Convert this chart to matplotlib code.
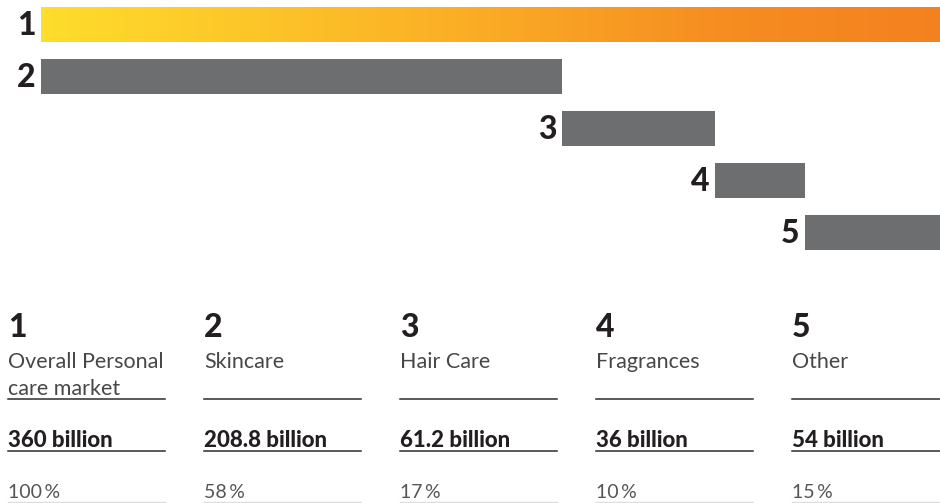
import numpy as np
import matplotlib
matplotlib.use('Agg')
import matplotlib.pyplot as plt
from matplotlib.colors import LinearSegmentedColormap

# data
ranks = ['1', '2', '3', '4', '5']
names = ['Overall Personal\ncare market', 'Skincare', 'Hair Care', 'Fragrances', 'Other']
values = [360, 208.8, 61.2, 36, 54]
value_labels = ['360 billion', '208.8 billion', '61.2 billion', '36 billion', '54 billion']
shares = ['100\u2009%', '58\u2009%', '17\u2009%', '10\u2009%', '15\u2009%']

W, H = 940, 503
GRAY = '#6d6e70'
TEXT = '#231f20'
FONT = ['Lato', 'DejaVu Sans']

fig = plt.figure(figsize=(W / 100, H / 100), dpi=100)

# waterfall bars: total first, then parts stacked left to right
lefts = [0]
acc = 0
for v in values[1:]:
    lefts.append(acc)
    acc += v

ax = fig.add_axes([41 / W, 1 - 260 / H, (W - 41) / W, 260 / H])
ax.axis('off')

ypos = np.arange(len(values))
bars = ax.barh(ypos, values, left=lefts, height=0.67, color=GRAY)

# gradient fill for the total bar
cmap = LinearSegmentedColormap.from_list('sun', [(0, '#fedd2c'), (0.45, '#fbb026'),
                                                 (0.75, '#f68e21'), (1, '#f4811f')])
b0 = bars[0]
b0.set_facecolor('none')
grad = np.linspace(0, 1, 256).reshape(1, -1)
im = ax.imshow(grad, cmap=cmap, aspect='auto',
               extent=(b0.get_x(), b0.get_x() + b0.get_width(),
                       b0.get_y() + b0.get_height(), b0.get_y()))
im.set_clip_path(b0)
ax.set_xlim(0, values[0])
ax.set_ylim(4 + 27.5 / 52, -24.5 / 52)

for i, (l, r) in enumerate(zip(lefts, ranks)):
    ax.annotate(r, (l, i), xytext=(-4, -1), textcoords='offset points',
                ha='right', va='center', fontsize=23, fontweight='black',
                color=TEXT, family=FONT)

# table below the chart, in pixel coordinates
tab = fig.add_axes([0, 0, 1, 1])
tab.set_xlim(0, W)
tab.set_ylim(H, 0)
tab.axis('off')

col_x = [8, 204, 400, 596, 792]
col_w = 157
for x, r, n, v, s in zip(col_x, ranks, names, value_labels, shares):
    tab.text(x, 337, r, fontsize=23, fontweight='black', color=TEXT,
             family=FONT, va='baseline')
    for k, line in enumerate(n.split('\n')):
        tab.text(x, 368 + 27 * k, line, fontsize=15.5, fontweight='normal',
                 color='#474747', family=FONT, va='baseline')
    tab.plot([x, x + col_w], [399, 399], color='#2b2b2b', lw=1.1)
    tab.text(x, 447, v, fontsize=16, fontweight='black', color=TEXT,
             family=FONT, va='baseline')
    tab.plot([x, x + col_w], [451, 451], color='#2b2b2b', lw=1.1)
    tab.text(x, 498, s, fontsize=14, fontweight='normal', color='#555555',
             family=FONT, va='baseline')
    tab.plot([x, x + col_w], [502, 502], color='#dddddd', lw=1.0)

fig.savefig('out.png', dpi=100)
